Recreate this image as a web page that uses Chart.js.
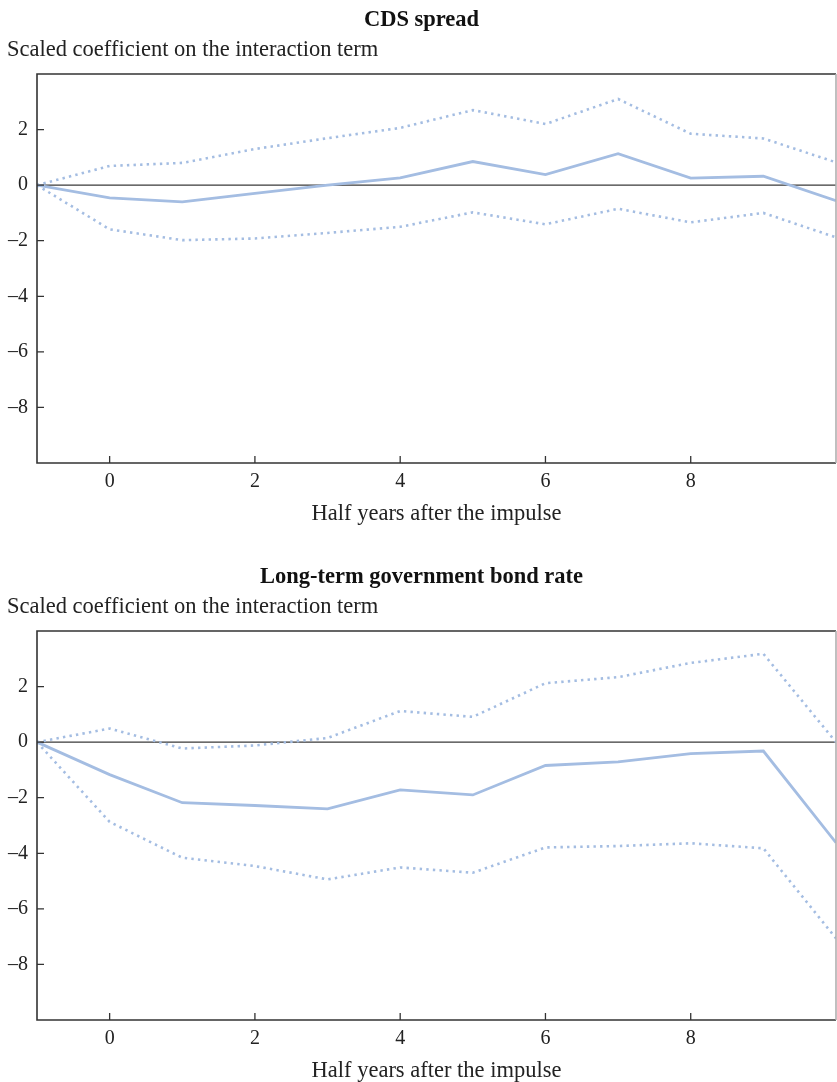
<!DOCTYPE html>
<html>
<head>
<meta charset="utf-8">
<script src="https://cdn.jsdelivr.net/npm/chart.js@4/dist/chart.umd.min.js"></script>
<style>
  html, body { margin: 0; padding: 0; background: #fff; }
  .panel { position: absolute; left: 0; width: 837px; height: 528px; }
  #p1 { top: 0; }
  #p2 { top: 557px; }
</style>
</head>
<body>
<div class="panel" id="p1"><canvas id="cdsChart"></canvas></div>
<div class="panel" id="p2"><canvas id="bondChart"></canvas></div>
<script>
// Half years after the impulse
const steps = [-1, 0, 1, 2, 3, 4, 5, 6, 7, 8, 9, 10];
const xTickValues = [0, 2, 4, 6, 8];
const yTickValues = [-8, -6, -4, -2, 0, 2];

// CDS spread
const cdsCoef  = [0, -0.46, -0.6, -0.3, 0.0, 0.26, 0.85, 0.38, 1.13, 0.25, 0.32, -0.56];
const cdsUpper = [0, 0.69, 0.8, 1.3, 1.69, 2.06, 2.7, 2.2, 3.1, 1.85, 1.68, 0.82];
const cdsLower = [0, -1.59, -1.98, -1.92, -1.72, -1.5, -0.98, -1.41, -0.85, -1.34, -1.0, -1.88];

// Long-term government bond rate
const bondCoef  = [0, -1.17, -2.18, -2.28, -2.4, -1.72, -1.9, -0.84, -0.71, -0.41, -0.32, -3.62];
const bondUpper = [0, 0.49, -0.23, -0.12, 0.15, 1.12, 0.91, 2.12, 2.34, 2.85, 3.18, 0.0];
const bondLower = [0, -2.87, -4.16, -4.46, -4.94, -4.51, -4.7, -3.79, -3.74, -3.64, -3.82, -7.06];

const lineColor = '#a4bde2';
const fontFamily = "'Liberation Serif', 'Times New Roman', serif";

// cadre, ligne zéro et graduations intérieures
const framePlugin = {
    id: 'frame',
    beforeDatasetsDraw(chart) {
        const { ctx, chartArea: a, scales: { y } } = chart;
        const y0 = y.getPixelForValue(0);
        ctx.save();
        ctx.strokeStyle = '#3a3a3a';
        ctx.lineWidth = 1.4;
        ctx.beginPath();
        ctx.moveTo(a.left, y0);
        ctx.lineTo(a.right, y0);
        ctx.stroke();
        ctx.restore();
    },
    afterDatasetsDraw(chart) {
        const { ctx, chartArea: a, scales: { x, y } } = chart;
        ctx.save();
        ctx.lineWidth = 1.6;
        ctx.strokeStyle = '#333';
        ctx.beginPath();
        ctx.moveTo(a.right, a.top);
        ctx.lineTo(a.left, a.top);
        ctx.lineTo(a.left, a.bottom);
        ctx.lineTo(a.right, a.bottom);
        ctx.stroke();
        ctx.strokeStyle = '#b0b0b0';
        ctx.beginPath();
        ctx.moveTo(a.right, a.top);
        ctx.lineTo(a.right, a.bottom);
        ctx.stroke();
        ctx.strokeStyle = '#333';
        ctx.lineWidth = 1.3;
        ctx.beginPath();
        x.ticks.forEach(t => {
            const px = x.getPixelForValue(t.value);
            ctx.moveTo(px, a.bottom);
            ctx.lineTo(px, a.bottom - 7);
        });
        y.ticks.forEach(t => {
            const py = y.getPixelForValue(t.value);
            ctx.moveTo(a.left, py);
            ctx.lineTo(a.left + 7, py);
        });
        ctx.stroke();
        ctx.restore();
    }
};

function makeChart(canvas, title, coef, upper, lower) {
    const toPoints = arr => arr.map((v, i) => ({ x: steps[i], y: v }));
    const dotted = {
        borderColor: lineColor,
        borderWidth: 2.6,
        borderDash: [2.4, 4.2],
        pointRadius: 0,
        tension: 0
    };
    return new Chart(canvas, {
        type: 'line',
        data: {
            datasets: [
                { ...dotted, data: toPoints(upper) },
                { ...dotted, data: toPoints(lower) },
                {
                    data: toPoints(coef),
                    borderColor: lineColor,
                    borderWidth: 2.8,
                    pointRadius: 0,
                    tension: 0
                }
            ]
        },
        options: {
            responsive: true,
            maintainAspectRatio: false,
            animation: false,
            layout: { padding: { left: 7, right: 1, top: 0, bottom: 0 } },
            scales: {
                x: {
                    type: 'linear',
                    min: -1,
                    max: 10,
                    afterBuildTicks: scale => {
                        scale.ticks = xTickValues.map(v => ({ value: v }));
                    },
                    afterFit: scale => { scale.height = 65; },
                    grid: { display: false, drawTicks: false },
                    border: { display: false },
                    ticks: {
                        padding: 7,
                        color: '#222',
                        font: { size: 20, family: fontFamily }
                    },
                    title: {
                        display: true,
                        text: 'Half years after the impulse',
                        color: '#222',
                        padding: { top: 0, bottom: 0 },
                        font: { size: 22.5, family: fontFamily }
                    }
                },
                y: {
                    type: 'linear',
                    min: -10,
                    max: 4,
                    afterBuildTicks: scale => {
                        scale.ticks = yTickValues.map(v => ({ value: v }));
                    },
                    afterFit: scale => { scale.width = 30; },
                    grid: { display: false, drawTicks: false },
                    border: { display: false },
                    ticks: {
                        padding: 9,
                        color: '#222',
                        font: { size: 20, family: fontFamily },
                        callback: v => (v < 0 ? '\u2013' + Math.abs(v) : String(v))
                    }
                }
            },
            plugins: {
                legend: { display: false },
                tooltip: { enabled: false },
                title: {
                    display: true,
                    text: title,
                    color: '#111',
                    padding: { top: 6.5, bottom: 3 },
                    font: { size: 22.5, weight: 'bold', family: fontFamily }
                },
                subtitle: {
                    display: true,
                    text: 'Scaled coefficient on the interaction term',
                    align: 'start',
                    color: '#222',
                    padding: { top: 0, bottom: 10.5 },
                    font: { size: 22.5, family: fontFamily }
                }
            }
        },
        plugins: [framePlugin]
    });
}

makeChart(document.getElementById('cdsChart'), 'CDS spread', cdsCoef, cdsUpper, cdsLower);
makeChart(document.getElementById('bondChart'), 'Long-term government bond rate', bondCoef, bondUpper, bondLower);
</script>
</body>
</html>
